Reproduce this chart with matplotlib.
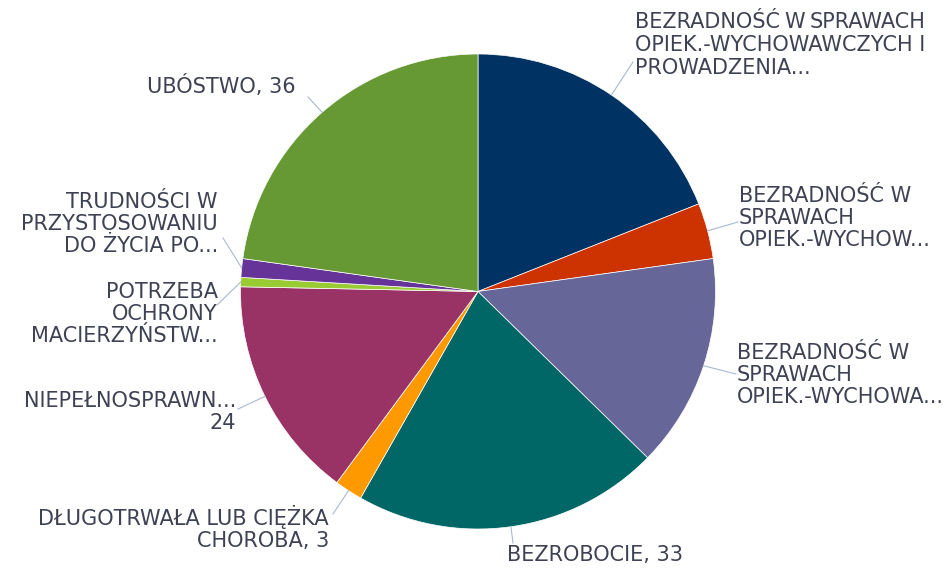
import matplotlib.pyplot as plt
import numpy as np

etykiety = [
    "BEZRADNOŚĆ W SPRAWACH\nOPIEK.-WYCHOWAWCZYCH I\nPROWADZENIA...",
    "BEZRADNOŚĆ W\nSPRAWACH\nOPIEK.-WYCHOW...",
    "BEZRADNOŚĆ W\nSPRAWACH\nOPIEK.-WYCHOWA...",
    "BEZROBOCIE, 33",
    "DŁUGOTRWAŁA LUB CIĘŻKA\nCHOROBA, 3",
    "NIEPEŁNOSPRAWN...\n24",
    "POTRZEBA\nOCHRONY\nMACIERZYŃSTW...",
    "TRUDNOŚCI W\nPRZYSTOSOWANIU\nDO ŻYCIA PO...",
    "UBÓSTWO, 36",
]
wartosci = [30, 6, 23, 33, 3, 24, 1, 2, 36]
kolory = ['#003263', '#CC3300', '#666699', '#006666', '#FF9900',
          '#993366', '#99CC33', '#663399', '#669933']

# uklad etykiet w pikselach (od lewego gornego rogu): x, y, wyrownanie, koniec linii
uklad = [
    (635, 45, 'left', (633, 62)),
    (739, 218, 'left', (738, 222)),
    (737, 375, 'left', (736, 374)),
    (507, 555, 'left', (513, 543)),
    (329, 528, 'right', (333, 514)),
    (236, 412, 'right', (238, 409)),
    (218, 314, 'right', (217, 305)),
    (218, 224, 'right', (223, 238)),
    (296, 86, 'right', (308, 97)),
]

W, H = 950, 568
CX, CY, R = 478, 291.5, 237.5
kolor_tekstu = '#3F4254'
kolor_linii = '#A9B9D0'
FS = 15

fig = plt.figure(figsize=(W / 100, H / 100), dpi=100)
ax = fig.add_axes([(CX - R) / W, (H - CY - R) / H, 2 * R / W, 2 * R / H])

wedges, _ = ax.pie(wartosci, colors=kolory, startangle=90, counterclock=False,
                   radius=1, wedgeprops=dict(edgecolor='white', linewidth=0.5))
ax.set_xlim(-1, 1)
ax.set_ylim(-1, 1)
ax.axis('off')


def px(x, y):
    return (x - CX) / R, (CY - y) / R


for w, tekst, (tx, ty, ha, koniec) in zip(wedges, etykiety, uklad):
    kat = np.deg2rad((w.theta1 + w.theta2) / 2)
    x0, y0 = np.cos(kat), np.sin(kat)
    x1, y1 = px(*koniec)
    ax.plot([x0, x1], [y0, y1], color=kolor_linii, lw=0.8, clip_on=False)
    if tekst.startswith("BEZRADNOŚĆ W SPRAWACH"):
        continue
    xx, yy = px(tx, ty)
    ax.text(xx, yy, tekst, ha=ha, va='center', ma=ha, fontsize=FS,
            color=kolor_tekstu, linespacing=1.1, clip_on=False)

# pierwsza etykieta - wyjustowana
linie = etykiety[0].split("\n")
lx = px(635, 0)[0]
t2 = ax.text(lx, px(0, 45)[1], linie[1], ha='left', va='center', fontsize=FS,
             color=kolor_tekstu, clip_on=False)
ax.text(lx, px(0, 68)[1], linie[2], ha='left', va='center', fontsize=FS,
        color=kolor_tekstu, clip_on=False)
fig.canvas.draw()
r = fig.canvas.get_renderer()
bb = t2.get_window_extent(r)
prawy = (bb.x1 - (CX - R)) / R - 1
slowa = linie[0].split()
y_g = px(0, 22)[1]
t_b = ax.text(lx, y_g, slowa[0], ha='left', va='center', fontsize=FS,
              color=kolor_tekstu, clip_on=False)
t_s = ax.text(prawy, y_g, slowa[2], ha='right', va='center', fontsize=FS,
              color=kolor_tekstu, clip_on=False)
fig.canvas.draw()
e1 = t_b.get_window_extent(r)
e2 = t_s.get_window_extent(r)
srodek = ((e1.x1 + e2.x0) / 2 - (CX - R)) / R - 1
ax.text(srodek, y_g, slowa[1], ha='center', va='center', fontsize=FS,
        color=kolor_tekstu, clip_on=False)

fig.savefig('out.png', dpi=100)
